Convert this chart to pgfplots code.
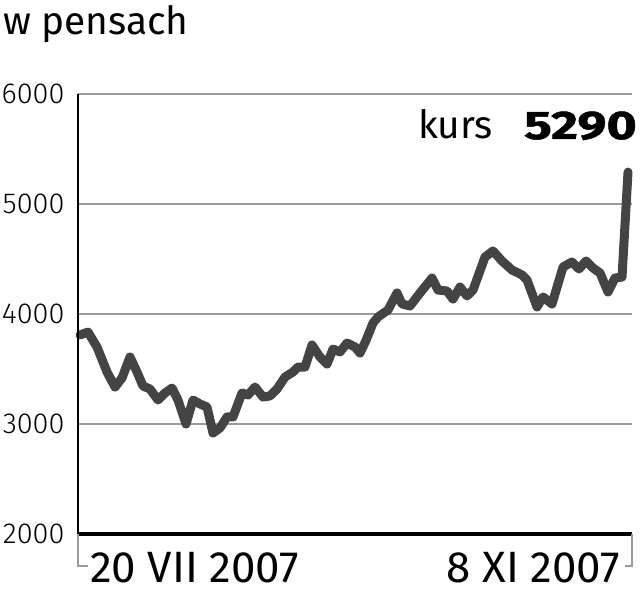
\documentclass[border=0pt]{standalone}
\usepackage{pgfplots}
\pgfplotsset{compat=1.18}
\usepackage{fontspec}
\setmainfont{Fira Sans}
\newfontfamily\lightf{Fira Sans Light}
\newfontfamily\bignum[FakeStretch=1.3,FakeBold=1.2]{Fira Sans}
\definecolor{gridc}{HTML}{9A9A9A}
\definecolor{linec}{HTML}{444444}
\begin{document}
\begin{tikzpicture}[x=1bp,y=1bp]
\useasboundingbox (-78,-57) rectangle (562,534);
\begin{axis}[
  at={(0,0)}, anchor=south west,
  scale only axis, width=554bp, height=440bp,
  xmin=78, xmax=632, ymin=2000, ymax=6000,
  axis line style={draw=none},
  major tick length=0pt,
  ytick={2000,3000,4000,5000,6000},
  xtick=\empty,
  ymajorgrids,
  grid style={gridc, line width=1.5bp},
  yticklabel style={font=\fontsize{29}{29}\selectfont\lightf, anchor=east, xshift=-10bp},
  /pgf/number format/assume math mode=true,
  yticklabel={\pgfmathprintnumber[fixed,1000 sep={}]{\tick}},
  clip=false,
]
\addplot[linec, line width=9bp, line join=round, line cap=round] coordinates {
(80,3809) (88,3836) (97,3700) (107,3473) (115,3336) (122,3418) (130,3609)
(137,3473) (143,3345) (150,3318) (158,3218) (165,3282) (172,3327) (178,3218)
(186,3000) (193,3218) (200,3182) (207,3155) (213,2918) (220,2964) (227,3064)
(233,3064) (242,3282) (248,3264) (255,3336) (263,3245) (270,3255) (277,3318)
(285,3427) (293,3473) (298,3518) (305,3518) (312,3718) (320,3609) (327,3545)
(333,3682) (340,3655) (347,3736) (355,3700) (360,3645) (366,3760) (373,3918)
(378,3973) (388,4036) (397,4191) (402,4091) (410,4073) (420,4191) (432,4327)
(438,4218) (447,4209) (453,4136) (460,4245) (467,4164) (473,4218) (485,4518)
(493,4573) (502,4482) (512,4400) (522,4355) (527,4309) (537,4064) (543,4155)
(552,4091) (563,4427) (572,4473) (579,4409) (586,4482) (593,4418) (600,4373)
(608,4200) (615,4327) (622,4336) (628,5290)
};
\end{axis}
\draw[black, line width=4bp] (0,0) -- (554,0);
\draw[black, line width=1.5bp] (0,440) -- (0,0);
\draw[gridc, line width=1.5bp] (0,0) -- (0,-32) -- (10,-32);
\draw[gridc, line width=1.5bp] (554,0) -- (554,-32) -- (547,-32);
\node[anchor=base west, inner sep=0pt, font=\fontsize{39}{39}\selectfont] at (-75,499) {w pensach};
\node[anchor=base west, inner sep=0pt, font=\fontsize{39}{39}\selectfont] at (340,395) {kurs};
\node[anchor=base east, inner sep=0pt, font=\fontsize{40}{40}\selectfont\bignum\bfseries] at (559,395) {5290};
\node[anchor=base west, inner sep=0pt, font=\fontsize{44}{44}\selectfont] at (12,-48) {20 VII 2007};
\node[anchor=base east, inner sep=0pt, font=\fontsize{44}{44}\selectfont] at (542,-48) {8 XI 2007};
\end{tikzpicture}
\end{document}
